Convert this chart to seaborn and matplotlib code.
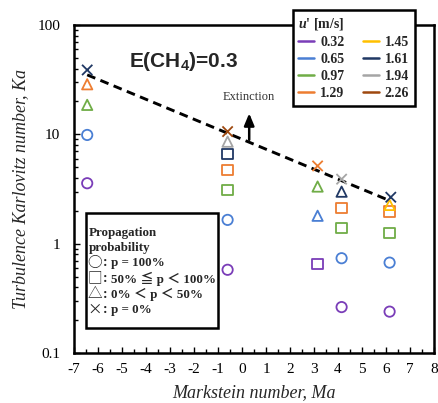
import matplotlib
matplotlib.use("Agg")
import matplotlib.pyplot as plt
import seaborn as sns
import pandas as pd
import numpy as np
from matplotlib.lines import Line2D
from matplotlib.patches import Rectangle
from matplotlib.ticker import MultipleLocator, LogLocator, NullFormatter, FixedLocator

sns.set_theme(style="white")
plt.rcParams.update({
    "font.family": ["Liberation Serif", "DejaVu Serif"],
    "axes.unicode_minus": False,
    "mathtext.fontset": "custom",
    "mathtext.rm": "Liberation Serif",
    "mathtext.it": "Liberation Serif:italic",
    "mathtext.bf": "Liberation Serif:bold",
    "mathtext.bfit": "Liberation Serif:bold:italic",
    "mathtext.sf": "Liberation Sans:bold",
})

# ---- data ----
u_levels = ["0.32", "0.65", "0.97", "1.29", "1.45", "1.61", "1.94", "2.26"]
u_colors = ["#7A3DB8", "#4A7FD4", "#70AD47", "#ED7D31", "#FFC000", "#203864", "#A5A5A5", "#9E480E"]

# p = 100 %  (circles)
circ_ma = [-6.45, -6.45, -0.6, -0.6, 4.15, 4.15, 6.15, 6.15]
circ_ka = [3.57, 9.87, 0.577, 1.65, 0.263, 0.736, 0.239, 0.671]
circ_u = ["0.32", "0.65", "0.32", "0.65", "0.32", "0.65", "0.32", "0.65"]

# 50 % <= p < 100 %  (squares)
sq_ma = [-0.6, -0.6, -0.6, 3.15, 4.15, 4.15, 6.15, 6.15]
sq_ka = [3.10, 4.73, 6.58, 0.648, 1.39, 2.11, 1.26, 1.97]
sq_u = ["0.97", "1.29", "1.61", "0.32", "0.97", "1.29", "0.97", "1.29"]

# 0 % < p < 50 %  (triangles)
tri_ma = [-6.45, -6.45, -0.6, 3.15, 3.15, 4.15, 6.15]
tri_ka = [18.6, 28.7, 8.57, 1.80, 3.33, 2.99, 2.26]
tri_u = ["0.97", "1.29", "1.94", "0.65", "0.97", "1.61", "1.45"]

# p = 0 %  (crosses)
x_ma = [-6.45, -0.6, 3.15, 4.15, 6.2]
x_ka = [38.8, 10.6, 5.14, 3.89, 2.66]
x_u = ["1.61", "2.26", "1.29", "1.94", "1.61"]

# extinction boundary
line_ma = [-6.45, 6.2]
line_ka = [35.0, 2.45]

pal = dict(zip(u_levels, u_colors))

fig = plt.figure(figsize=(4.38, 4.03), dpi=100)
ax = fig.add_axes([74 / 438, 1 - 353 / 403, 360 / 438, 328 / 403])

groups = [
    (circ_ma, circ_ka, circ_u, "o", True),
    (sq_ma, sq_ka, sq_u, "s", True),
    (tri_ma, tri_ka, tri_u, "^", True),
    (x_ma, x_ka, x_u, "x", False),
]
for ma, ka, uu, mk, filled in groups:
    df = pd.DataFrame({"Ma": ma, "Ka": ka, "u": uu})
    n0 = len(ax.collections)
    sns.scatterplot(data=df, x="Ma", y="Ka", hue="u", palette=pal, marker=mk,
                    s=55, linewidth=1.3, legend=False, ax=ax, zorder=3)
    coll = ax.collections[n0]
    cols = [pal[v] for v in uu]
    coll.set_edgecolors(cols)
    coll.set_facecolors("none" if filled else cols)

ldf = pd.DataFrame({"Ma": line_ma, "Ka": line_ka})
sns.lineplot(data=ldf, x="Ma", y="Ka", color="black", lw=2.1, ax=ax, zorder=2)
ax.lines[-1].set_dashes((3.0, 1.9))

ax.set_yscale("log")
ax.set_xlim(-7, 8)
ax.set_ylim(0.1, 100)
ax.xaxis.set_major_locator(MultipleLocator(1))
ax.xaxis.set_minor_locator(MultipleLocator(0.5))
ax.yaxis.set_major_locator(FixedLocator([0.1, 1, 10, 100]))
ax.yaxis.set_minor_locator(LogLocator(base=10, subs=np.arange(2, 10)))
ax.yaxis.set_minor_formatter(NullFormatter())
ax.set_yticklabels(["0.1", "1", "10", "100"])
ax.tick_params(which="both", direction="in", left=True, bottom=True, labelsize=11,
               colors="black", width=1.0)
ax.tick_params(which="major", length=4)
ax.tick_params(which="minor", length=3)
ax.tick_params(axis="y", which="major", pad=10)
ax.tick_params(axis="x", which="major", pad=7)
for sp in ax.spines.values():
    sp.set_color("black")
    sp.set_linewidth(1.8)

ax.set_xlabel("Markstein number, Ma", fontstyle="italic", fontsize=13, labelpad=6)
ax.set_ylabel("Turbulence Karlovitz number, Ka", fontstyle="italic", fontsize=13, labelpad=6)

ax.text(-4.7, 46, r"E(CH$_\mathsf{4}$)=0.3", family="Liberation Sans", fontweight="bold",
        fontsize=15, ha="left", va="center")

ax.annotate("", xy=(0.3, 16.5), xytext=(0.3, 8.4),
            arrowprops=dict(arrowstyle="-|>,head_length=0.6,head_width=0.25", color="black", lw=1.8))
ax.text(0.3, 22, "Extinction", fontsize=9, color="#333333", ha="center", va="center")

handles = [Line2D([0], [0], color=c, lw=1.8) for c in u_colors]
leg = fig.legend(handles, u_levels,
                 ncol=2, loc="upper left", bbox_to_anchor=(292.5 / 438, 1 - 10 / 403),
                 borderaxespad=0,
                 title=r"$\mathbfit{u}$' [m/s]", prop={"weight": "bold", "size": 10},
                 title_fontsize=10, frameon=True, fancybox=False, edgecolor="black",
                 framealpha=1, handlelength=1.15, handletextpad=0.45, columnspacing=1.3,
                 labelspacing=0.3, borderpad=0.4)
leg.get_frame().set_linewidth(1.8)
leg.get_title().set_fontweight("bold")
leg._legend_box.align = "left"

# propagation probability box
fig.patches.append(Rectangle((85.5 / 438, 1 - 328 / 403), 132 / 438, 115 / 403,
                             transform=fig.transFigure, fc="white", ec="black", lw=1.8,
                             zorder=5))
fam = ["Liberation Serif", "Noto Sans CJK JP", "DejaVu Sans"]
fig.text(89 / 438, 1 - 233 / 403, "Propagation", family=fam, fontweight="bold",
         fontsize=9.4, va="center", ha="left", zorder=6)
fig.text(89 / 438, 1 - 248 / 403, "probability", family=fam, fontweight="bold",
         fontsize=9.4, va="center", ha="left", zorder=6)
sym = ["○", "□", "△", "×"]
rest = ["p = 100%", "50% ≦ p ＜ 100%", "0% ＜ p ＜ 50%", "p = 0%"]
ys = [263, 278.5, 294, 309.5]
for s_, r_, y_ in zip(sym, rest, ys):
    fig.text(95 / 438, 1 - y_ / 403, s_, family=["Noto Sans CJK JP"], fontsize=10.5,
             va="center", ha="center", zorder=6)
    fig.text(105 / 438, 1 - y_ / 403, ":", family=fam, fontweight="bold", fontsize=10,
             va="center", ha="center", zorder=6)
    fig.text(111 / 438, 1 - y_ / 403, r_, family=fam, fontweight="bold", fontsize=9.4,
             va="center", ha="left", zorder=6)

fig.savefig("out.png", dpi=100)
